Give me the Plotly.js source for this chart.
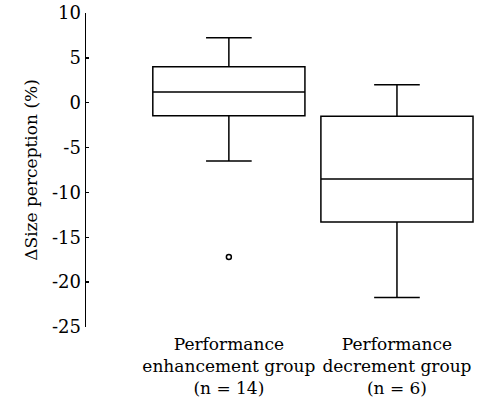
<!DOCTYPE html>
<html><head><meta charset="utf-8">
<script src="https://cdn.plot.ly/plotly-3.0.1.min.js"></script>
<style>html,body{margin:0;padding:0;background:#fff}</style>
</head><body><div id="chart" style="width:485px;height:415px"></div>
<script>
var categories = ["Performance<br>enhancement group<br>(n = 14)", "Performance<br>decrement group<br>(n = 6)"];
var positions = [0, 1];
var q1Vals = [-1.45, -13.3];
var medianVals = [1.2, -8.5];
var q3Vals = [4.0, -1.5];
var lowerVals = [-6.5, -21.7];
var upperVals = [7.25, 2.0];
var outlierX = [0];
var outlierY = [-17.2];
var yTicks = [10, 5, 0, -5, -10, -15, -20, -25];
var yTickText = ["10", "5", "0", "-5", "-10", "-15", "-20", "-25"];

var serif = "Liberation Serif, DejaVu Serif, serif";
var traces = positions.map(function(p, i){
  return {
    type: 'box', x: [p], q1: [q1Vals[i]], median: [medianVals[i]], q3: [q3Vals[i]],
    lowerfence: [lowerVals[i]], upperfence: [upperVals[i]],
    width: 0.905, whiskerwidth: 0.3,
    fillcolor: 'rgba(0,0,0,0)', line: {color: '#000', width: 1.5},
    boxpoints: false, hoverinfo: 'none', showlegend: false
  };
});
traces.push({
  type: 'scatter', mode: 'markers', x: outlierX, y: outlierY,
  marker: {symbol: 'circle-open', size: 5, color: '#000', line: {width: 1.5, color: '#000'}},
  showlegend: false, hoverinfo: 'none'
});

var layout = {
  width: 485, height: 415,
  margin: {l: 86, r: 4, t: 13, b: 88, pad: 0},
  paper_bgcolor: '#fff', plot_bgcolor: '#fff',
  font: {family: "DejaVu Serif", size: 17, color: '#000'},
  showlegend: false,
  xaxis: {
    range: [-0.85, 1.5], tickmode: 'array', tickvals: positions, ticktext: categories,
    showline: false, showgrid: false, zeroline: false, ticks: '',
    tickfont: {family: "DejaVu Serif", size: 17, color: '#000'}, ticklabelstandoff: 5
  },
  yaxis: {
    range: [-25, 10], tickmode: 'array', tickvals: yTicks, ticktext: yTickText,
    showline: true, linecolor: '#000', linewidth: 1.5,
    ticks: 'inside', ticklen: 3, tickwidth: 1.5, tickcolor: '#000',
    showgrid: false, zeroline: false,
    tickfont: {family: "DejaVu Serif", size: 18, color: '#000'},
    title: {text: 'ΔSize perception (%)', font: {family: "DejaVu Serif", size: 17, color: '#000'}, standoff: 10},
    ticklabelstandoff: 0
  }
};
Plotly.newPlot('chart', traces, layout, {staticPlot: true, displayModeBar: false});
</script></body></html>
